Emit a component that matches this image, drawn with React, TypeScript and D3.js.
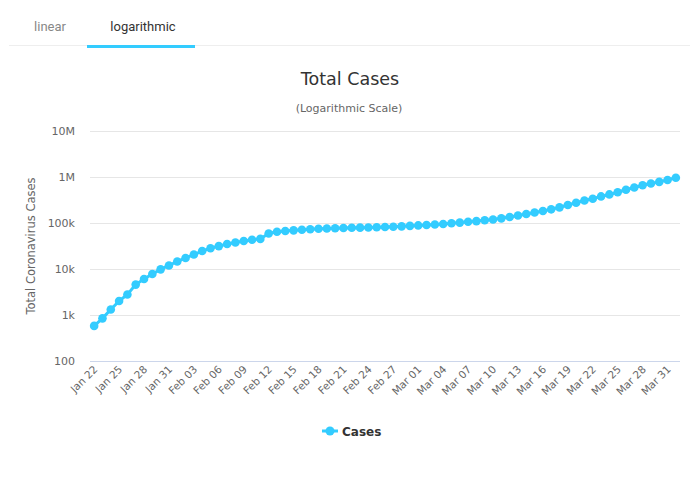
import React from "react";
import * as d3 from "d3";

const dates = [
  "Jan 22","Jan 23","Jan 24","Jan 25","Jan 26","Jan 27","Jan 28","Jan 29","Jan 30","Jan 31",
  "Feb 01","Feb 02","Feb 03","Feb 04","Feb 05","Feb 06","Feb 07","Feb 08","Feb 09","Feb 10",
  "Feb 11","Feb 12","Feb 13","Feb 14","Feb 15","Feb 16","Feb 17","Feb 18","Feb 19","Feb 20",
  "Feb 21","Feb 22","Feb 23","Feb 24","Feb 25","Feb 26","Feb 27","Feb 28","Feb 29","Mar 01",
  "Mar 02","Mar 03","Mar 04","Mar 05","Mar 06","Mar 07","Mar 08","Mar 09","Mar 10","Mar 11",
  "Mar 12","Mar 13","Mar 14","Mar 15","Mar 16","Mar 17","Mar 18","Mar 19","Mar 20","Mar 21",
  "Mar 22","Mar 23","Mar 24","Mar 25","Mar 26","Mar 27","Mar 28","Mar 29","Mar 30","Mar 31",
  "Apr 01"
];

const cases = [
  580, 845, 1317, 2015, 2800, 4581, 6058, 7813, 9823, 11950,
  14553, 17391, 20630, 24545, 28266, 31439, 34876, 37552, 40553, 43099,
  45134, 59287, 64438, 67100, 69197, 71329, 73332, 75184, 75700, 76677,
  77673, 78651, 79205, 80087, 80828, 81820, 83112, 84615, 86604, 88585,
  90443, 93016, 95314, 98425, 102050, 106099, 109991, 114381, 118948, 126214,
  134576, 145483, 156653, 169593, 182490, 198238, 218822, 246446, 275869, 308463,
  336953, 378235, 418045, 467653, 529591, 593291, 660706, 720117, 782365, 858000,
  960000
];

const yTicks = [100, 1000, 10000, 100000, 1000000, 10000000];
const yTickLabels = ["100", "1k", "10k", "100k", "1M", "10M"];

const FONT = '"DejaVu Sans", Verdana, sans-serif';
const COLOR = "#33ccff";

export default function App() {
  const W = 698, H = 485;
  const left = 90, right = 680, top = 131, bottom = 361;
  const x = d3.scalePoint<string>().domain(dates).range([left, right]).padding(0.5);
  const y = d3.scaleLog().domain([100, 1e7]).range([bottom, top]);
  const line = d3.line<number>().x((_, i) => x(dates[i])!).y((d) => y(d));

  return (
    <svg width={W} height={H} style={{ position: "absolute", left: 0, top: 0, background: "#fff" }}>
      {/* tabs */}
      <line x1={9} x2={690} y1={45.5} y2={45.5} stroke="#eeeeee" strokeWidth={1} />
      <text x={50} y={31} textAnchor="middle" fontFamily="Roboto, sans-serif" fontSize={13} fill="#888">linear</text>
      <text x={143} y={31} textAnchor="middle" fontFamily="Roboto, sans-serif" fontSize={13} fill="#333">logarithmic</text>
      <rect x={87} y={45} width={108} height={3} fill={COLOR} />

      {/* titles */}
      <text x={350} y={85} textAnchor="middle" fontFamily={FONT} fontSize={17.5} fill="#333">Total Cases</text>
      <text x={349} y={112} textAnchor="middle" fontFamily={FONT} fontSize={11} fill="#666">(Logarithmic Scale)</text>

      {/* grid */}
      {yTicks.map((t, i) => (
        <g key={t}>
          <line x1={left} x2={right} y1={Math.round(y(t)) + 0.5} y2={Math.round(y(t)) + 0.5}
            stroke={i === 0 ? "#ccd6eb" : "#e6e6e6"} strokeWidth={1} />
          <text x={75} y={y(t) + 4} textAnchor="end" fontFamily={FONT} fontSize={11} fill="#666">{yTickLabels[i]}</text>
        </g>
      ))}

      {/* y axis title */}
      <text transform={`translate(35, 246) rotate(-90)`} textAnchor="middle" fontFamily={FONT} fontSize={11.5} fill="#666">
        Total Coronavirus Cases
      </text>

      {/* x labels */}
      {dates.map((d, i) =>
        i % 3 === 0 ? (
          <text key={d} transform={`translate(${x(d)! + 4}, 370) rotate(-45)`} textAnchor="end"
            fontFamily={FONT} fontSize={10.5} fill="#666">{d}</text>
        ) : null
      )}

      {/* series */}
      <path d={line(cases) || ""} fill="none" stroke={COLOR} strokeWidth={3} />
      {cases.map((c, i) => (
        <circle key={i} cx={x(dates[i])} cy={y(c)} r={4.3} fill={COLOR} />
      ))}

      {/* legend */}
      <line x1={322} x2={338} y1={431} y2={431} stroke={COLOR} strokeWidth={3} />
      <circle cx={330} cy={431} r={4.5} fill={COLOR} />
      <text x={342} y={435.5} fontFamily={FONT} fontSize={12} fontWeight="bold" fill="#333">Cases</text>
    </svg>
  );
}
